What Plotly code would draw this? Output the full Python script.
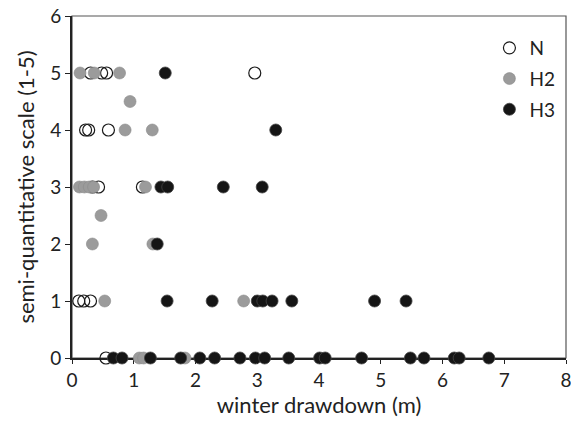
import plotly.graph_objects as go

# Data
n_x = [0.30, 0.48, 0.56, 2.96, 0.22, 0.27, 0.59, 0.33, 0.43, 1.14, 0.11, 0.19, 0.30, 0.55]
n_y = [5, 5, 5, 5, 4, 4, 4, 3, 3, 3, 1, 1, 1, 0]

h2_x = [0.13, 0.36, 0.77, 0.94, 0.86, 1.30, 0.12, 0.20, 0.28, 0.35, 1.19, 0.47, 0.33, 1.31,
        0.53, 2.78, 1.09, 1.16, 1.83]
h2_y = [5, 5, 5, 4.5, 4, 4, 3, 3, 3, 3, 3, 2.5, 2, 2, 1, 1, 0, 0, 0]

h3_x = [1.51, 3.30, 1.44, 1.55, 2.45, 3.08, 1.38,
        1.54, 2.27, 3.00, 3.09, 3.24, 3.56, 4.90, 5.41,
        0.67, 0.81, 1.27, 1.76, 2.07, 2.31, 2.72, 2.97, 3.12, 3.51, 4.01, 4.10, 4.69,
        5.48, 5.70, 6.19, 6.27, 6.75]
h3_y = [5, 4, 3, 3, 3, 3, 2,
        1, 1, 1, 1, 1, 1, 1, 1,
        0, 0, 0, 0, 0, 0, 0, 0, 0, 0, 0, 0, 0, 0, 0, 0, 0, 0]

x_ticks = [0, 1, 2, 3, 4, 5, 6, 7, 8]
y_ticks = [0, 1, 2, 3, 4, 5, 6]

FONT = "Lato"
fig = go.Figure()
fig.add_trace(go.Scatter(x=n_x, y=n_y, mode="markers", name="N", legendgroup="a",
                         marker=dict(symbol="circle-open", size=12, color="#1a1a1a",
                                     line=dict(width=1.2)), cliponaxis=False))
fig.add_trace(go.Scatter(x=h2_x, y=h2_y, mode="markers", name="H2", legendgroup="b",
                         marker=dict(symbol="circle", size=12, color="#9b9b9b",
                                     line=dict(width=0.6, color="#8c8c8c")), cliponaxis=False))
fig.add_trace(go.Scatter(x=h3_x, y=h3_y, mode="markers", name="H3", legendgroup="c",
                         marker=dict(symbol="circle", size=12, color="#151515",
                                     line=dict(width=0.8, color="#444444")), cliponaxis=False))

fig.update_layout(
    width=571, height=422,
    margin=dict(l=72, r=5, t=16, b=64),
    paper_bgcolor="white", plot_bgcolor="white",
    font=dict(family=FONT, size=19, color="#222222"),
    showlegend=True,
    legend=dict(x=0.845, y=0.962, xanchor="left", yanchor="top",
                font=dict(size=19), tracegroupgap=3, itemwidth=30,
                bgcolor="rgba(0,0,0,0)"),
    shapes=[dict(type="rect", xref="paper", yref="paper", x0=0, y0=0, x1=1, y1=1,
                 line=dict(color="#555555", width=1.2), layer="below")],
)
fig.update_xaxes(range=[0, 8], tickvals=x_ticks, ticks="outside", ticklen=4,
                 tickcolor="#222222", showline=True, linecolor="#222222", linewidth=1.8,
                 showgrid=False, zeroline=False, layer="below traces",
                 ticklabeloverflow="allow", automargin=False,
                 title=dict(text="winter drawdown (m)", font=dict(size=22), standoff=0))
fig.update_yaxes(range=[0, 6], tickvals=y_ticks, ticks="outside", ticklen=5,
                 tickcolor="#222222", showline=True, linecolor="#222222", linewidth=1.8,
                 showgrid=False, zeroline=False, layer="below traces",
                 ticklabeloverflow="allow", automargin=False,
                 title=dict(text="semi-quantitative scale (1-5)", font=dict(size=22), standoff=10))

fig.write_html("out.html")
